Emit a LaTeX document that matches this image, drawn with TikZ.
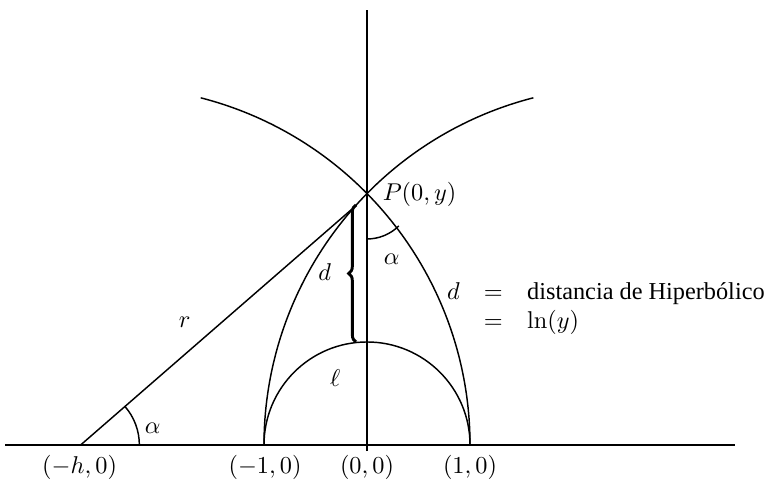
\documentclass[tikz,border=0pt]{standalone}
\usepackage[no-math]{fontspec}
\setmainfont{Liberation Serif}
\usetikzlibrary{decorations.pathreplacing, positioning}

\begin{document}
\begin{tikzpicture}[x=1.49cm, y=1.49cm, line width=0.6pt]
\useasboundingbox (-3.563,-0.379) rectangle (3.854,4.320);
\coordinate (axL) at (-3.51,0);
\coordinate (axR) at (3.57,0);
\coordinate (vB) at (0,-0.06);
\coordinate (vT) at (0,4.22);
\coordinate (O) at (0,0);
\coordinate (P) at (0,2.44);
\coordinate (H) at (-2.78,0);
\coordinate (A) at (1,0);
\coordinate (B) at (-1,0);
\coordinate (Q) at (-0.1,2.33);
\coordinate (bT) at (-0.107,2.33);
\coordinate (bB) at (-0.107,1.0);
\draw [line width=1.2pt] (axL) -- (axR);
\draw (vB) -- (vT);
\draw (A) arc [start angle=0, end angle=180, radius=1];
\draw (A) arc [start angle=0, end angle=75.6, radius=3.48];
\draw (B) arc [start angle=180, end angle=104.4, radius=3.48];
\draw (H) -- (Q);
\draw (H) ++(0.57,0) arc [start angle=0, end angle=41, radius=0.57];
\draw (P) ++(0,-0.44) arc [start angle=-90, end angle=-45.5, radius=0.44];
\draw [decorate, decoration={brace, amplitude=3pt}, line width=1.2pt] (bB) -- (bT);
\node (lblH) at (-2.79,-0.214) {$(-h,0)$};
\node (lblB) at (-0.99,-0.214) {$(-1,0)$};
\node (lblO) at (0,-0.214) {$(0,0)$};
\node (lblA) at (1.0,-0.214) {$(1,0)$};
\node (lblP) at (0.146,2.43) [anchor=west, inner sep=0pt] {$P(0,y)$};
\node (lblr) at (-1.77,1.19) {$r$};
\node (lbld) at (-0.41,1.68) {$d$};
\node (alP) at (0.24,1.80) {$\alpha$};
\node (alH) at (-2.08,0.165) {$\alpha$};
\node (lbll) at (-0.31,0.65) {$\ell$};
\node (eq) at (0.77,1.41) [anchor=base west, inner sep=0pt] {\begin{tabular}[t]{@{}r@{\hspace{10pt}}c@{\hspace{10pt}}l@{}}
$d$ & $=$ & distancia de Hiperbólico\\
 & $=$ & $\ln(y)$
\end{tabular}};
\end{tikzpicture}
\end{document}
